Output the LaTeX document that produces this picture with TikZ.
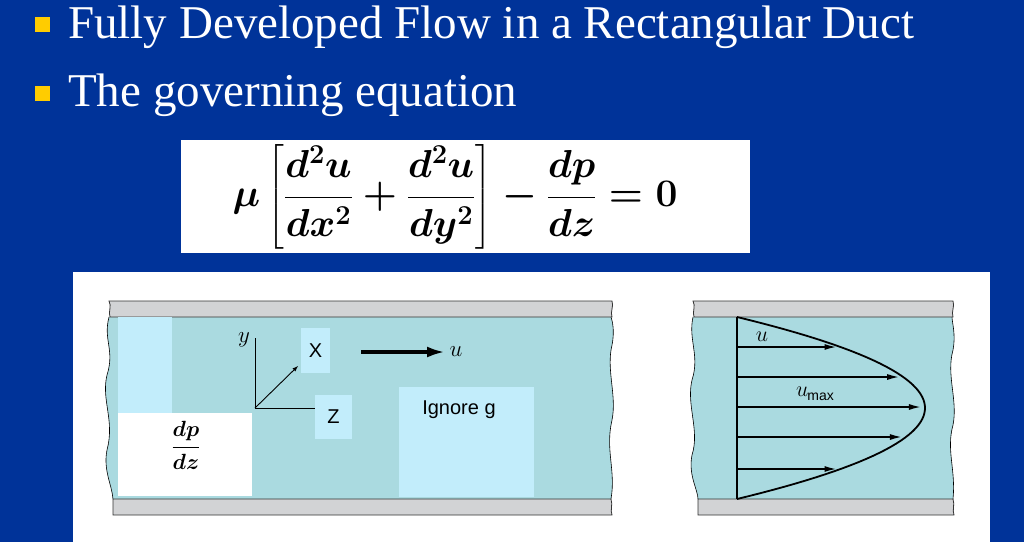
\RequirePackage{fix-cm}
\documentclass[tikz,border=0pt]{standalone}
\usepackage{amsmath}
\usepackage{fontspec}
\setmainfont{Liberation Serif}
\setsansfont{Liberation Sans}
\usetikzlibrary{arrows.meta}
\definecolor{fluidc}{RGB}{170,218,224}
\definecolor{hilc}{RGB}{194,237,251}
\definecolor{wallc}{RGB}{210,211,213}
\definecolor{bgc}{RGB}{0,51,153}
\definecolor{bulc}{RGB}{255,204,0}
\begin{document}
\begin{tikzpicture}[x=1pt,y=-1pt,
  fluid/.style={fill=fluidc},
  hil/.style={fill=hilc},
  wall/.style={fill=wallc,draw=black!80,line width=0.8pt},
  flow/.style={-{Latex[length=12pt,width=6pt]},line width=1.6pt},
  bullet/.style={fill=bulc,minimum size=15pt,inner sep=0pt}]
\useasboundingbox (0,0) rectangle (1024,542);
\fill[bgc] (0,0) rectangle (1024,542);
% header
\node[bullet] (b1) at (42,24) {};
\node[bullet] (b2) at (42,93) {};
\node[anchor=west,text=white,font=\fontsize{47}{52}\selectfont,inner sep=0pt] (t1) at (68,27) {Fully Developed Flow in a Rectangular Duct};
\node[anchor=west,text=white,font=\fontsize{47}{52}\selectfont,inner sep=0pt] (t2) at (68,95) {The governing equation};
% equation
\fill[white] (181,140) rectangle (750,253);
\node (eq) at (455,197) {\fontsize{39}{44}\selectfont$\boldsymbol{\mu\left[\dfrac{d^2u}{dx^2}+\dfrac{d^2u}{dy^2}\right]-\dfrac{dp}{dz}=0}$};
% panel
\fill[white] (73,272) rectangle (990,542);
% left duct
\fill[fluid] (109,317) .. controls (103,340) and (115,350) .. (107,375) .. controls (101,400) and (115,420) .. (107,450) .. controls (103,470) and (112,485) .. (113,499)
  -- (611,499) .. controls (616,470) and (605,450) .. (612,420) .. controls (617,395) and (606,370) .. (612,345) .. controls (615,330) and (612,320) .. (611,317) -- cycle;
\draw[line width=0.6pt] (109,317) .. controls (103,340) and (115,350) .. (107,375) .. controls (101,400) and (115,420) .. (107,450) .. controls (103,470) and (112,485) .. (113,499);
\draw[line width=0.6pt] (611,499) .. controls (616,470) and (605,450) .. (612,420) .. controls (617,395) and (606,370) .. (612,345) .. controls (615,330) and (612,320) .. (611,317);
\draw[wall] (109,301) .. controls (112,306) and (108,312) .. (110,317) -- (612,317) .. controls (610,312) and (614,306) .. (612,301) -- cycle;
\draw[wall] (113,499) -- (611,499) .. controls (613,505) and (610,510) .. (612,515) -- (113,515) -- cycle;
\fill[hil] (118,317) rectangle (172,413);
\fill[white] (118,413) rectangle (252,496);
\node (dpdz) at (186,445) {\fontsize{22}{26}\selectfont$\boldsymbol{\dfrac{dp}{dz}}$};
\coordinate (o) at (255,408);
\coordinate (yend) at (255,338);
\coordinate (zend) at (315,408);
\coordinate (xend) at (298,366);
\draw[line width=0.5pt] (yend) -- (o) -- (zend);
\draw[-latex,line width=0.9pt] (o) -- (xend);
\node (ylab) at (244,340) {\fontsize{23}{26}\selectfont$y$};
\node[hil,minimum width=29pt,minimum height=45pt,inner sep=0pt] (xbox) at (315.5,350.5) {\sffamily\fontsize{20}{22}\selectfont X};
\node[hil,minimum width=37pt,minimum height=44pt,inner sep=0pt] (zbox) at (333.5,417) {\sffamily\fontsize{20}{22}\selectfont Z};
\fill[hil] (399,387) rectangle (534,497);
\node (ign) at (459,410) {\sffamily\fontsize{20}{22}\selectfont Ignore g};
\coordinate (ua) at (361,352);
\coordinate (ub) at (445,352);
\draw[-{Latex[length=18pt,width=11pt]},line width=3.5pt] (ua) -- (ub);
\node (ulab) at (456,352) {\fontsize{23}{26}\selectfont$u$};
% right duct
\fill[fluid] (693,317) .. controls (688,340) and (700,355) .. (692,380) .. controls (686,405) and (700,430) .. (692,455) .. controls (688,475) and (698,490) .. (698,499)
  -- (953,499) .. controls (956,470) and (946,450) .. (953,425) .. controls (958,400) and (946,375) .. (953,350) .. controls (956,335) and (952,322) .. (952,317) -- cycle;
\draw[line width=0.6pt] (693,317) .. controls (688,340) and (700,355) .. (692,380) .. controls (686,405) and (700,430) .. (692,455) .. controls (688,475) and (698,490) .. (698,499);
\draw[line width=0.6pt] (953,499) .. controls (956,470) and (946,450) .. (953,425) .. controls (958,400) and (946,375) .. (953,350) .. controls (956,335) and (952,322) .. (952,317);
\draw[wall] (693,301) .. controls (696,306) and (692,312) .. (694,317) -- (953,317) .. controls (951,312) and (955,306) .. (953,301) -- cycle;
\draw[wall] (698,499) -- (953,499) .. controls (955,505) and (952,510) .. (954,515) -- (698,515) -- cycle;
\coordinate (top) at (737,317);
\coordinate (bot) at (737,499);
\draw[line width=1.8pt] (top) -- (bot);
\draw[line width=1.8pt,domain=-91:91,samples=60] plot ({737+188*(1-(\x/91)^2)},{408+\x});
\foreach \yy in {347,377,407,437,469}{
  \coordinate (s\yy) at (737,\yy);
  \coordinate (e\yy) at ({737+188*(1-((\yy-408)/91)^2)-4},\yy);
  \draw[flow] (s\yy) -- (e\yy);}
\node (u2) at (762,337) {\fontsize{22}{26}\selectfont$u$};
\node (umax) at (815,394) {\fontsize{22}{26}\selectfont$u$\kern-1pt\raisebox{-4pt}{\sffamily\fontsize{14}{16}\selectfont max}};
\end{tikzpicture}
\end{document}
